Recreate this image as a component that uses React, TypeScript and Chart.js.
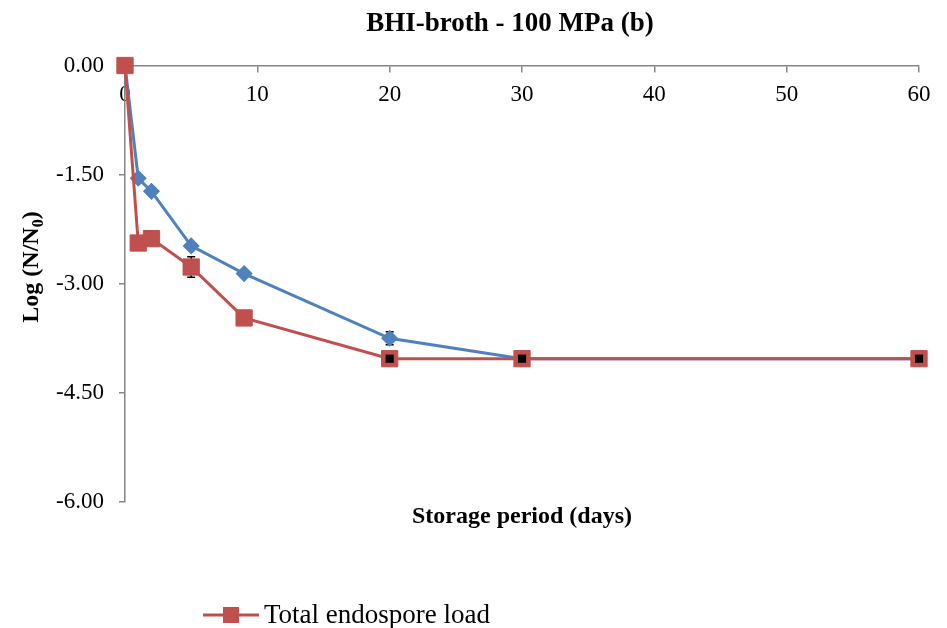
import React, { useEffect, useRef } from 'react';
import { Chart, registerables } from 'chart.js';

Chart.register(...registerables);

// ---- data ----
const days = [0, 1, 2, 5, 9, 20, 30, 60];
const totalEndospore = [0, -2.44, -2.38, -2.77, -3.47, -4.03, -4.03, -4.03];
const viableCount = [0, -1.55, -1.73, -2.48, -2.86, -3.75, -4.03, -4.03];
const totalErr = [0, 0, 0, 0.14, 0, 0, 0, 0];
const viableErr = [0, 0, 0, 0, 0, 0.09, 0, 0];
const limitDays = [20, 30, 60];
const limitValues = [-4.03, -4.03, -4.03];
const xTickValues = [0, 10, 20, 30, 40, 50, 60];
const yTickValues = [0, -1.5, -3, -4.5, -6];

const TITLE = 'BHI-broth - 100 MPa (b)';
const X_TITLE = 'Storage period (days)';
const Y_TITLE_MAIN = 'Log (N/N';
const Y_TITLE_SUB = '0';
const Y_TITLE_END = ')';
const LEGEND_LABEL = 'Total endospore load';
const VIABLE_LABEL = 'Viable count';
const LIMIT_LABEL = 'Detection limit';

const RED = '#C0504D';
const BLUE = '#4F81BD';
const AXIS = '#868686';
const SERIF = '"Liberation Serif", "Times New Roman", serif';

const errorBarPlugin = {
  id: 'errorBars',
  beforeDatasetsDraw(chart: any) {
    const ctx = chart.ctx;
    const xs = chart.scales.x;
    const ys = chart.scales.y;
    const sets: [number[], number[]][] = [
      [totalEndospore, totalErr],
      [viableCount, viableErr],
    ];
    ctx.save();
    ctx.strokeStyle = '#000';
    ctx.lineWidth = 1.5;
    sets.forEach(([vals, errs]) => {
      vals.forEach((v, i) => {
        const e = errs[i];
        if (!e) return;
        const px = xs.getPixelForValue(days[i]);
        const top = ys.getPixelForValue(v + e);
        const bot = ys.getPixelForValue(v - e);
        ctx.beginPath();
        ctx.moveTo(px, top);
        ctx.lineTo(px, bot);
        ctx.moveTo(px - 4, top);
        ctx.lineTo(px + 4, top);
        ctx.moveTo(px - 4, bot);
        ctx.lineTo(px + 4, bot);
        ctx.stroke();
      });
    });
    ctx.restore();
  },
};

const textPlugin = {
  id: 'texts',
  afterDraw(chart: any) {
    const ctx = chart.ctx;
    const a = chart.chartArea;
    ctx.save();
    ctx.fillStyle = '#000';
    ctx.textBaseline = 'alphabetic';

    // title
    ctx.font = `bold 27px ${SERIF}`;
    ctx.textAlign = 'center';
    ctx.fillText(TITLE, 510, 31);

    // x title
    ctx.font = `bold 24px ${SERIF}`;
    ctx.fillText(X_TITLE, (a.left + a.right) / 2, 523);

    // y title (rotated, with subscript)
    ctx.textAlign = 'left';
    const mainFont = `bold 24px ${SERIF}`;
    const subFont = `bold 16px ${SERIF}`;
    ctx.font = mainFont;
    const w1 = ctx.measureText(Y_TITLE_MAIN).width;
    const w3 = ctx.measureText(Y_TITLE_END).width;
    ctx.font = subFont;
    const w2 = ctx.measureText(Y_TITLE_SUB).width;
    const total = w1 + w2 + w3;
    ctx.translate(38, 267);
    ctx.rotate(-Math.PI / 2);
    let x = -total / 2;
    ctx.font = mainFont;
    ctx.fillText(Y_TITLE_MAIN, x, 0);
    x += w1;
    ctx.font = subFont;
    ctx.fillText(Y_TITLE_SUB, x, 5);
    x += w2;
    ctx.font = mainFont;
    ctx.fillText(Y_TITLE_END, x, 0);
    ctx.setTransform(1, 0, 0, 1, 0, 0);

    // legend (only the red series shown, as in the reference)
    const ly = 615;
    ctx.strokeStyle = RED;
    ctx.lineWidth = 3;
    ctx.beginPath();
    ctx.moveTo(203, ly);
    ctx.lineTo(259, ly);
    ctx.stroke();
    ctx.fillStyle = RED;
    ctx.fillRect(231 - 8, ly - 8, 16, 16);
    ctx.fillStyle = '#000';
    ctx.font = `27px ${SERIF}`;
    ctx.textAlign = 'left';
    ctx.fillText(LEGEND_LABEL, 264, 623);
    ctx.restore();
  },
};

export default function App() {
  const ref = useRef<HTMLCanvasElement>(null);

  useEffect(() => {
    if (!ref.current) return;
    const chart = new Chart(ref.current, {
      type: 'line',
      data: {
        datasets: [
          {
            label: LIMIT_LABEL,
            data: limitDays.map((d, i) => ({ x: d, y: limitValues[i] })),
            showLine: false,
            pointStyle: 'rect',
            pointRadius: 5.8,
            pointBorderWidth: 0,
            pointBackgroundColor: '#000',
            pointBorderColor: '#000',
            clip: false,
            order: 0,
          },
          {
            label: LEGEND_LABEL,
            data: days.map((d, i) => ({ x: d, y: totalEndospore[i] })),
            borderColor: RED,
            backgroundColor: RED,
            borderWidth: 3,
            pointStyle: 'rect',
            pointRadius: 11.5,
            pointBorderWidth: 1,
            pointBackgroundColor: RED,
            pointBorderColor: RED,
            clip: false,
            order: 1,
          },
          {
            label: VIABLE_LABEL,
            data: days.map((d, i) => ({ x: d, y: viableCount[i] })),
            borderColor: BLUE,
            backgroundColor: BLUE,
            borderWidth: 3,
            pointStyle: 'rectRot',
            pointRadius: 7.5,
            pointBorderWidth: 1.5,
            pointBackgroundColor: BLUE,
            pointBorderColor: BLUE,
            clip: false,
            order: 2,
          },
        ],
      },
      options: {
        responsive: false,
        animation: false,
        layout: { padding: { left: 0, top: 65.5, right: 28, bottom: 126 } },
        plugins: {
          legend: { display: false },
          title: { display: false },
          tooltip: { enabled: false },
        },
        scales: {
          x: {
            type: 'linear',
            position: { y: 0 } as any,
            min: 0,
            max: 60,
            afterBuildTicks: (s: any) => {
              s.ticks = xTickValues.map((v) => ({ value: v }));
            },
            grid: { drawOnChartArea: false, drawTicks: true, tickLength: 6, color: AXIS, lineWidth: 1.5 },
            border: { color: AXIS, width: 1.5 },
            ticks: {
              color: '#000',
              padding: 10,
              maxRotation: 0,
              font: { family: SERIF, size: 23 },
            },
          },
          y: {
            type: 'linear',
            min: -6,
            max: 0,
            afterBuildTicks: (s: any) => {
              s.ticks = yTickValues.map((v) => ({ value: v }));
            },
            afterFit: (s: any) => {
              s.width = 125;
            },
            grid: { drawOnChartArea: false, drawTicks: true, tickLength: 6, color: AXIS, lineWidth: 1.5 },
            border: { color: AXIS, width: 1.5 },
            ticks: {
              color: '#000',
              padding: 15,
              font: { family: SERIF, size: 23 },
              callback: (v: any) => Number(v).toFixed(2),
            },
          },
        },
      },
      plugins: [errorBarPlugin, textPlugin],
    });
    return () => chart.destroy();
  }, []);

  return (
    <div style={{ position: 'absolute', left: 0, top: 0, width: 947, height: 628, background: '#fff' }}>
      <canvas ref={ref} width={947} height={628} />
    </div>
  );
}
